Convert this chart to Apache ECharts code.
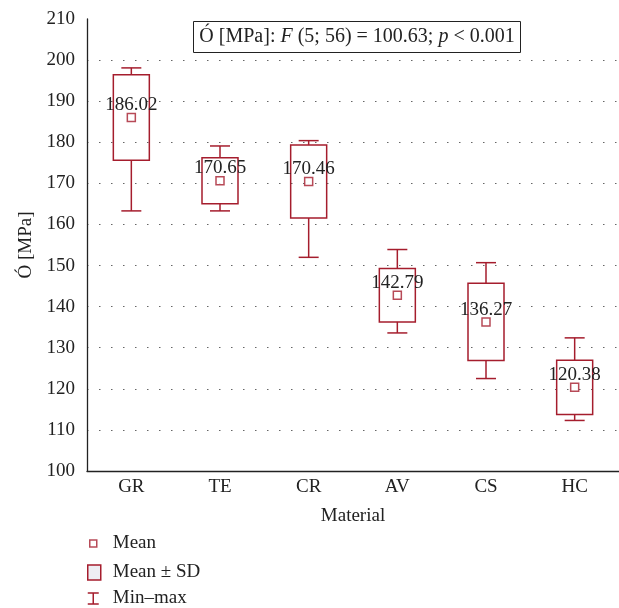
<!DOCTYPE html>
<html>
<head>
<meta charset="utf-8">
<script src="https://cdn.jsdelivr.net/npm/echarts@6/dist/echarts.min.js"></script>
<style>
  html, body { margin: 0; padding: 0; background: #fff; }
  #chart { width: 619px; height: 608px; }
</style>
</head>
<body>
<div id="chart"></div>
<script>
// data
var materials = ['GR', 'TE', 'CR', 'AV', 'CS', 'HC'];
var means = [186.02, 170.65, 170.46, 142.79, 136.27, 120.38];
var sds = [10.4, 5.6, 8.9, 6.5, 9.4, 6.6];
var mins = [163.3, 163.3, 152.0, 133.6, 122.5, 112.3];
var maxs = [198.1, 179.1, 180.4, 153.9, 150.7, 132.4];

var red = '#a51d2d';
var ink = '#222';
var serif = '"Liberation Serif", "DejaVu Serif", serif';

var myChart = echarts.init(document.getElementById('chart'));

var boxData = materials.map(function (m, i) {
    return [i, means[i] - sds[i], means[i] + sds[i]];
});
var whiskerData = materials.map(function (m, i) {
    return [i, mins[i], maxs[i], means[i] - sds[i], means[i] + sds[i]];
});
var meanData = materials.map(function (m, i) {
    return [i, means[i]];
});

// grid line colours: hide the ones at 100 and 210
var gridColors = ['transparent'];
for (var k = 0; k < 10; k++) gridColors.push('#666');
gridColors.push('transparent');

function legendItem(name, icon, w, h, left, top, style, gap) {
    return {
        data: [{ name: name, icon: icon, itemStyle: style }],
        orient: 'vertical',
        left: left,
        top: top,
        padding: 0,
        itemWidth: w,
        itemHeight: h,
        selectedMode: false,
        textStyle: { fontFamily: serif, fontSize: 19, color: ink, padding: [0, 0, 0, gap] }
    };
}

var option = {
    animation: false,
    backgroundColor: '#fff',
    title: {
        text: '{n|Ó [MPa]: }{i|F}{n| (5; 56) = 100.63; }{i|p}{n| < 0.001}',
        left: 351,
        top: 21,
        textAlign: 'center',
        borderColor: ink,
        borderWidth: 1,
        padding: [6, 6, 6, 6],
        textStyle: {
            fontFamily: serif, fontSize: 20, fontWeight: 'normal', color: ink,
            rich: {
                n: { fontFamily: serif, fontSize: 20, color: ink },
                i: { fontFamily: serif, fontSize: 20, color: ink, fontStyle: 'italic' }
            }
        }
    },
    legend: [
        legendItem('Mean', 'rect', 7, 7, 89, 534, { color: '#fff', borderColor: red, borderWidth: 1.5 }, 11),
        legendItem('Mean ± SD', 'rect', 13, 15, 87, 563, { color: '#eeeef3', borderColor: red, borderWidth: 1.5 }, 7),
        legendItem('Min–max', 'path://M0,0L10,0M5,0L5,10M0,10L10,10', 11, 11, 87, 589,
            { color: 'transparent', borderColor: red, borderWidth: 1.5 }, 9)
    ],
    grid: { left: 87, right: -8, top: 19, bottom: 137 },
    xAxis: {
        type: 'category',
        data: materials,
        name: 'Material',
        nameLocation: 'middle',
        nameGap: 36,
        nameTextStyle: { fontFamily: serif, fontSize: 19, color: ink },
        axisLine: { lineStyle: { color: ink, width: 1.3 } },
        axisTick: { show: false },
        axisLabel: { fontFamily: serif, fontSize: 19, color: ink, margin: 7 },
        splitLine: { show: false }
    },
    yAxis: {
        type: 'value',
        min: 100,
        max: 210,
        interval: 10,
        name: 'Ó [MPa]',
        nameLocation: 'middle',
        nameGap: 50,
        nameTextStyle: { fontFamily: serif, fontSize: 19, color: ink },
        axisLine: { show: true, lineStyle: { color: ink, width: 1.3 } },
        axisTick: { show: false },
        axisLabel: { fontFamily: serif, fontSize: 19, color: ink, margin: 12 },
        splitLine: { show: true, lineStyle: { color: gridColors, type: [1.5, 10.5], width: 1.2 } }
    },
    series: [
        {
            name: 'Min–max',
            type: 'custom',
            data: whiskerData,
            encode: { x: 0, y: [1, 2] },
            renderItem: function (params, api) {
                var i = api.value(0);
                var lo = api.coord([i, api.value(1)]);
                var hi = api.coord([i, api.value(2)]);
                var bLo = api.coord([i, api.value(3)]);
                var bHi = api.coord([i, api.value(4)]);
                var x = lo[0], cap = 10;
                var st = { stroke: red, lineWidth: 1.5 };
                return {
                    type: 'group',
                    children: [
                        { type: 'line', shape: { x1: x - cap, y1: hi[1], x2: x + cap, y2: hi[1] }, style: st },
                        { type: 'line', shape: { x1: x, y1: hi[1], x2: x, y2: bHi[1] }, style: st },
                        { type: 'line', shape: { x1: x, y1: bLo[1], x2: x, y2: lo[1] }, style: st },
                        { type: 'line', shape: { x1: x - cap, y1: lo[1], x2: x + cap, y2: lo[1] }, style: st }
                    ]
                };
            }
        },
        {
            name: 'Mean ± SD',
            type: 'custom',
            data: boxData,
            encode: { x: 0, y: [1, 2] },
            renderItem: function (params, api) {
                var i = api.value(0);
                var lo = api.coord([i, api.value(1)]);
                var hi = api.coord([i, api.value(2)]);
                var w = 36;
                return {
                    type: 'rect',
                    shape: { x: lo[0] - w / 2, y: hi[1], width: w, height: lo[1] - hi[1] },
                    style: { fill: 'transparent', stroke: red, lineWidth: 1.5 }
                };
            }
        },
        {
            name: 'Mean',
            type: 'scatter',
            data: meanData,
            symbol: 'rect',
            symbolSize: 8,
            itemStyle: { color: '#fff', borderColor: red, borderWidth: 1.5 },
            label: {
                show: true,
                position: 'top',
                distance: -2,
                fontFamily: serif,
                fontSize: 19,
                color: ink,
                opacity: 1,
                textBorderWidth: 0,
                formatter: function (p) { return p.value[1].toFixed(2); }
            },
            z: 5
        }
    ]
};

myChart.setOption(option);
</script>
</body>
</html>
